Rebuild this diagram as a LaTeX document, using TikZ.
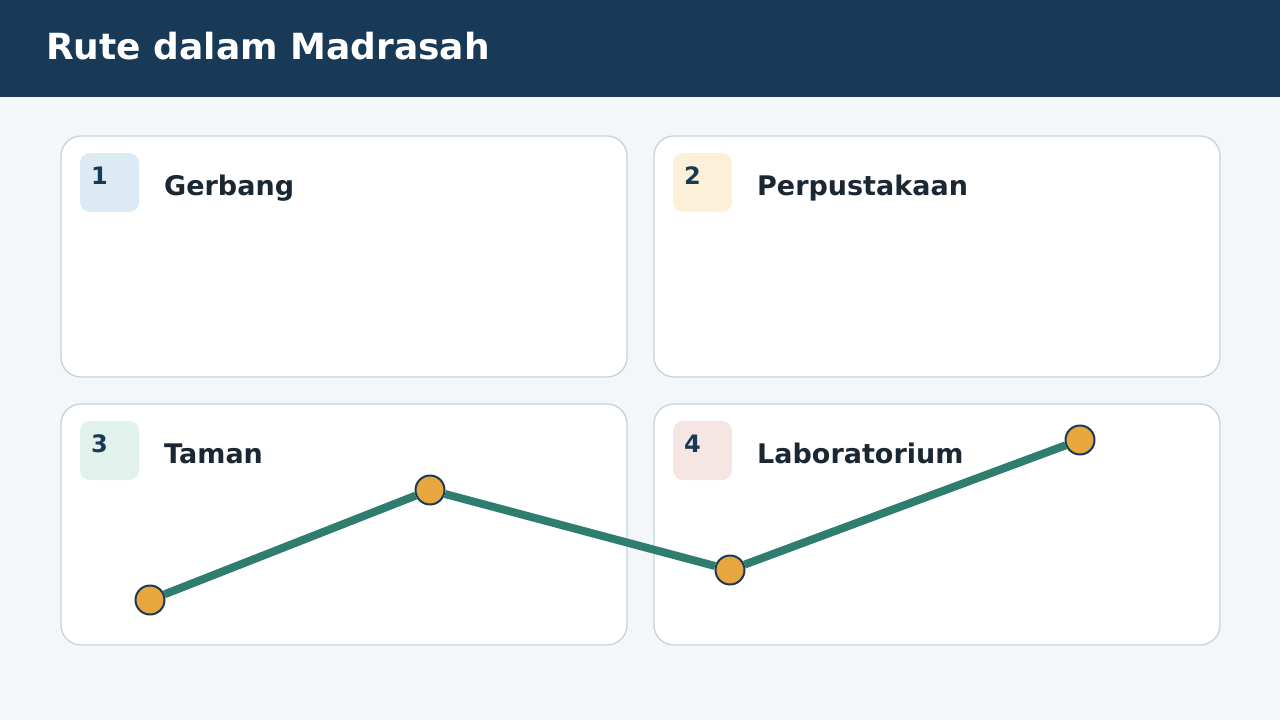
\documentclass[tikz,border=0pt]{standalone}
\usepackage{fontspec}
\setmainfont{DejaVu Sans}
\usetikzlibrary{positioning,calc}
\definecolor{headblue}{HTML}{183A56}
\definecolor{pagebg}{HTML}{F3F7FA}
\definecolor{cardline}{HTML}{C5D3DD}
\definecolor{titleink}{HTML}{1B2733}
\definecolor{badgeblue}{HTML}{DBEAF3}
\definecolor{badgeyellow}{HTML}{FDF0D9}
\definecolor{badgegreen}{HTML}{E1F2EC}
\definecolor{badgered}{HTML}{F5E5E3}
\definecolor{routegreen}{HTML}{2E7D6E}
\definecolor{stoporange}{HTML}{E8A63E}

\begin{document}
\begin{tikzpicture}[x=1pt,y=-1pt,
    card/.style={draw=cardline, line width=1.3pt, fill=white, rounded corners=20pt},
    badge/.style={rounded corners=10pt},
    numtext/.style={anchor=base west, inner sep=0pt, text=headblue, font=\fontsize{24}{24}\selectfont\bfseries},
    cardtitle/.style={anchor=base west, inner sep=0pt, text=titleink, font=\fontsize{27}{27}\selectfont\bfseries},
    stop/.style={draw=headblue, line width=2pt, fill=stoporange, circle, minimum size=29pt, inner sep=0pt},
    route/.style={draw=routegreen, line width=8pt}]
          \useasboundingbox (0,0) rectangle (1280,720);
          \fill[pagebg] (0,0) rectangle (1280,720);
          \fill[headblue] (0,0) rectangle (1280,97);
          \draw node[anchor=base west, inner sep=0pt, text=white, font=\fontsize{36}{36}\selectfont\bfseries] (title) at (46,59) {Rute dalam Madrasah};

          % cards
          \draw[card] (61,136) rectangle (627,377);
          \draw[card] (654,136) rectangle (1220,377);
          \draw[card] (61,404) rectangle (627,645);
          \draw[card] (654,404) rectangle (1220,645);

          % badges
          \fill[badge, badgeblue] (80,153) rectangle (139,212);
          \fill[badge, badgeyellow] (673,153) rectangle (732,212);
          \fill[badge, badgegreen] (80,421) rectangle (139,480);
          \fill[badge, badgered] (673,421) rectangle (732,480);

          \draw node[numtext] (n1) at (91,184) {1};
          \draw node[numtext] (n2) at (684,184) {2};
          \draw node[numtext] (n3) at (91,452) {3};
          \draw node[numtext] (n4) at (684,452) {4};

          \draw node[cardtitle] (gerbang) at (164,195) {Gerbang};
          \draw node[cardtitle] (perpustakaan) at (757,195) {Perpustakaan};
          \draw node[cardtitle] (taman) at (164,463) {Taman};
          \draw node[cardtitle] (laboratorium) at (757,463) {Laboratorium};

          % route
          \draw node[stop] (s1) at (150,600) {};
          \draw node[stop] (s2) at (430,490) {};
          \draw node[stop] (s3) at (730,570) {};
          \draw node[stop] (s4) at (1080,440) {};
          \draw (s1) edge[route] (s2);
          \draw (s2) edge[route] (s3);
          \draw (s3) edge[route] (s4);
      \end{tikzpicture}
\end{document}
